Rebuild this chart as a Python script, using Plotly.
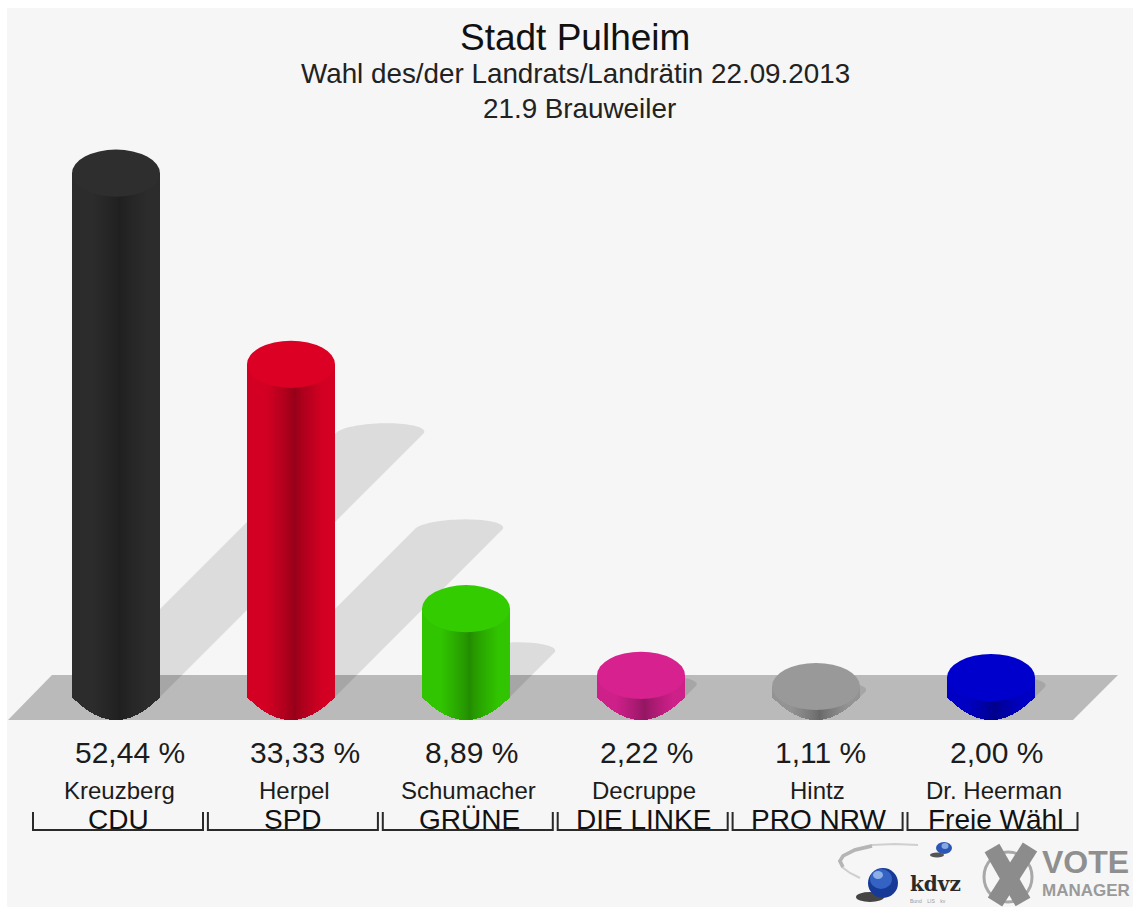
import math
import plotly.graph_objects as go

# ---- data ----
candidates = ["Kreuzberg", "Herpel", "Schumacher", "Decruppe", "Hintz", "Dr. Heerman"]
parties = ["CDU", "SPD", "GRÜNE", "DIE LINKE", "PRO NRW", "Freie Wähl"]
shares = [52.44, 33.33, 8.89, 2.22, 1.11, 2.00]
share_labels = ["52,44 %", "33,33 %", "8,89 %", "2,22 %", "1,11 %", "2,00 %"]
colors = ["#2e2e2e", "#dc0024", "#33cc00", "#d6218f", "#999999", "#0000cc"]
title_lines = ["Stadt Pulheim", "Wahl des/der Landrats/Landrätin 22.09.2013", "21.9 Brauweiler"]

# ---- geometry (pixels of the 1133x908 page) ----
W, H = 1133, 908
X0, DX = 116.0, 175.0      # first bar centre, bar spacing
Y0, PX_PER_PCT = 697.0, 10.0
HALF_W = 44
ELL = 23 / PX_PER_PCT      # ellipse half height, axis units
SHADOW = 5.03              # shadow shear, px per percent
SHADOW_ELL = 10.0          # shadow ellipse half height px
FONT = "Liberation Sans"


def X(px):
    return (px - X0) / DX


def Y(py):
    return (Y0 - py) / PX_PER_PCT


def PX(px):
    return px / W


def PY(py):
    return 1 - py / H


def scale(color, f):
    r, g, b = (int(color[k:k + 2], 16) for k in (1, 3, 5))
    return f"rgb({round(r * f)},{round(g * f)},{round(b * f)})"


def shade(u):
    # u in -1..1 across the cylinder; darkest just right of centre
    c = 0.08
    d = abs(u - c) / (1 + c)
    return 0.68 + 0.28 * min(1.0, d / 0.6) ** 0.8


shapes = []
# page panel
shapes.append(dict(type="rect", xref="paper", yref="paper", x0=PX(7), x1=1, y0=PY(907), y1=PY(8),
                   fillcolor="#f6f6f6", line_width=0, layer="below"))
# floor
fl = [(8, 720), (52, 675), (1118, 675), (1073, 720)]
shapes.append(dict(type="path", xref="x", yref="y", layer="below", fillcolor="#bababa", line_width=0,
                   path="M" + " L".join(f"{X(a):.4f},{Y(b):.3f}" for a, b in fl) + " Z"))
# cast shadows
for i, v in enumerate(shares):
    cx = X0 + DX * i
    d = SHADOW * v
    pts = [(cx - HALF_W, Y0)]
    for k in range(0, 41):
        t = math.pi - math.pi * k / 40
        pts.append((cx + d + HALF_W * math.cos(t) + 7 * math.sin(t), Y0 - d - SHADOW_ELL * math.sin(t)))
    pts.append((cx + HALF_W, Y0))
    shapes.append(dict(type="path", xref="x", yref="y", layer="below",
                       fillcolor="rgba(0,0,0,0.105)", line_width=0,
                       path="M" + " L".join(f"{X(a):.4f},{Y(b):.3f}" for a, b in pts) + " Z"))

fig = go.Figure()

# cylinders: each one is a strip of thin bars whose length is the share
for i, (v, col, party) in enumerate(zip(shares, colors, parties)):
    xs, bases, ys, cs = [], [], [], []
    for p in range(-HALF_W, HALF_W):
        mid = p + 0.5
        u = mid / HALF_W
        s = 1 - u * u
        xs.append(i + mid / DX)
        bases.append(-ELL * s)
        ys.append(v)
        cs.append(scale(col, shade(u)))
    fig.add_trace(go.Bar(x=xs, y=ys, base=bases, width=1 / DX, name=party,
                         marker=dict(color=cs, line_width=0), hoverinfo="skip", showlegend=False))
    # top cap, reaching a hair below the bar tops so no seam shows
    shapes.append(dict(type="circle", xref="x", yref="y", layer="above", fillcolor=col, line_width=0,
                       x0=i - HALF_W / DX, x1=i + HALF_W / DX, y0=v - ELL - 0.12, y1=v + ELL))

# brackets below the labels
bx, by = [], []
for i in range(len(parties)):
    left = X(33 + 174.9 * i)
    right = left + 170 / DX
    bx += [left, left, right, right, None]
    by += [Y(812), Y(830), Y(830), Y(812), None]
fig.add_trace(go.Scatter(x=bx, y=by, mode="lines", line=dict(color="#2a2a2a", width=2),
                         hoverinfo="skip", showlegend=False))

ann = []


def text(s, x, y, size, color="#1c1c1c", **kw):
    ann.append(dict(text=s, x=PX(x), y=PY(y), xref="paper", yref="paper", showarrow=False,
                    xanchor=kw.pop("xanchor", "center"), yanchor="middle",
                    font=dict(family=kw.pop("family", FONT), size=size, color=color,
                              weight=kw.pop("weight", "normal")), **kw))


text(title_lines[0], 575, 37, 37, "#111111")
text(title_lines[1], 575, 74, 27.8, "#222222")
text(title_lines[2], 579, 109, 27.8, "#222222")

name_x = [119.5, 294, 468, 644, 817, 993.5]
party_x = [118, 292.5, 469, 643.5, 818, 995]
for i in range(len(parties)):
    text(share_labels[i], 73 + 175 * i, 752, 30, xanchor="left")
    text(candidates[i], name_x[i], 790, 24)
    text(parties[i], party_x[i], 819, 28, "#111111")

# ---- logo (decoration, page pixels) ----
def pshape(**kw):
    shapes.append(dict(xref="paper", yref="paper", layer="above", **kw))


def ell(cx, cy, rx, ry, col):
    pshape(type="circle", x0=PX(cx - rx), x1=PX(cx + rx), y0=PY(cy + ry), y1=PY(cy - ry),
           fillcolor=col, line_width=0)


def stroke(points, col, width):
    path = "M" + " L".join(f"{PX(a):.5f},{PY(b):.5f}" for a, b in points)
    pshape(type="path", path=path, line_width=width, line_color=col)


# swoosh, tapered by drawing it in two weights
stroke([(918, 845), (895, 844), (872, 845), (855, 849), (843, 855), (839, 861), (842, 867), (850, 873), (860, 878)],
       "#cfcfcf", 2)
stroke([(872, 846), (855, 850), (843, 856), (840, 861), (843, 867)], "#b5b5b5", 3.5)
# spheres
ell(870, 897, 14, 5, "#444444")
ell(883, 883, 15, 15, "#173a96")
ell(881, 879, 11, 10, "#3463c4")
ell(878, 875, 5, 4, "#8db0e6")
ell(937, 855, 7, 2.5, "#555555")
ell(944, 848, 8, 6, "#2c55b5")
ell(945, 846, 3.5, 3, "#86a8e0")
text("kdvz", 908, 884, 20, "#2a2a2a", xanchor="left", family="DejaVu Serif", weight="bold")
text("Bund    LIS    kv", 908, 901, 5, "#999999", xanchor="left")

# X mark
pshape(type="circle", x0=PX(984), x1=PX(1032), y0=PY(902), y1=PY(852), line=dict(color="#a8a8a8", width=3))
stroke([(992, 848), (1023, 902)], "#8c8c8c", 17)
stroke([(1030, 847), (995, 902)], "#8c8c8c", 17)
text("VOTE", 1040, 861.5, 32, "#8f8f8f", xanchor="left", weight="bold")
text("MANAGER", 1040, 890, 17, "#9a9a9a", xanchor="left", weight="bold")

fig.update_layout(
    width=W, height=H, margin=dict(l=0, r=0, t=0, b=0, pad=0),
    paper_bgcolor="#ffffff", plot_bgcolor="rgba(0,0,0,0)",
    barmode="overlay", bargap=0, showlegend=False,
    shapes=shapes, annotations=ann,
    xaxis=dict(range=[X(0), X(W)], visible=False, fixedrange=True),
    yaxis=dict(range=[Y(H), Y(0)], visible=False, fixedrange=True),
)
fig.write_html("out.html", config={"displayModeBar": False},
               post_script="document.body.style.margin='0';")
